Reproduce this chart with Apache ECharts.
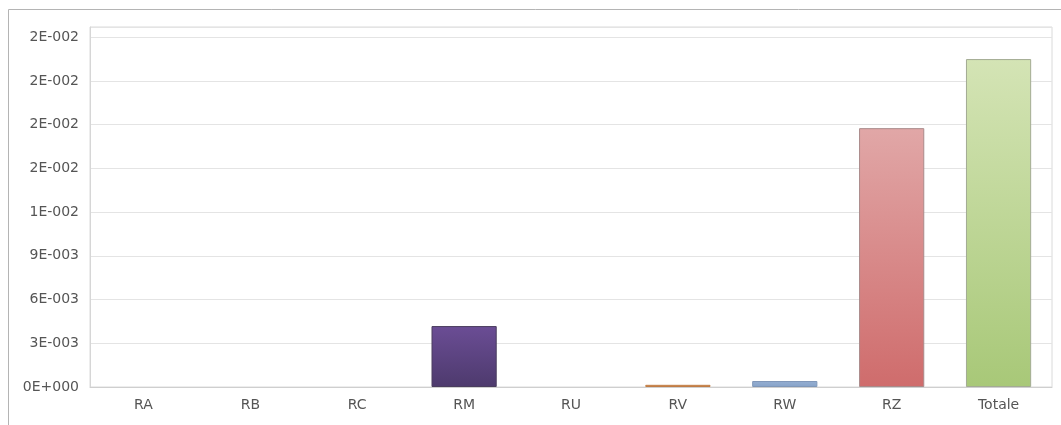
<!DOCTYPE html>
<html>
<head>
<meta charset="utf-8">
<script src="https://cdn.jsdelivr.net/npm/echarts@6/dist/echarts.min.js"></script>
<style>
  html, body { margin: 0; padding: 0; background: #fff; }
  #chart { width: 1061px; height: 425px; }
</style>
</head>
<body>
<div id="chart"></div>
<script>
// data
const categories = ['RA', 'RB', 'RC', 'RM', 'RU', 'RV', 'RW', 'RZ', 'Totale'];
const values = [0, 0, 0, 0.00418, 0, 0.00015, 0.00041, 0.01776, 0.0225];
const yTicks = { min: 0, max: 0.0247, interval: 0.003 };

// bar colours (top -> bottom of gradient)
const topColors = ['#8a8a8a', '#8a8a8a', '#8a8a8a', '#6b4d95', '#8a8a8a', '#e2a774', '#95afd2', '#e1a7a7', '#d4e4b5'];
const bottomColors = ['#8a8a8a', '#8a8a8a', '#8a8a8a', '#4d3a6d', '#8a8a8a', '#d48a4a', '#86a2c8', '#cf6c6c', '#a8c878'];
const borderColors = ['#888', '#888', '#888', '#4a3d5e', '#888', '#c07c45', '#7f97b8', '#a98a8a', '#a3ab93'];

// 0.015 -> "2E-002", 0 -> "0E+000"
function sci(v) {
  if (v === 0) return '0E+000';
  let exp = Math.floor(Math.log10(Math.abs(v)));
  let mant = Math.round(v / Math.pow(10, exp));
  if (mant >= 10) { mant = 1; exp++; }
  const sign = exp < 0 ? '-' : '+';
  return mant + 'E' + sign + String(Math.abs(exp)).padStart(3, '0');
}

const chart = echarts.init(document.getElementById('chart'));

const option = {
  animation: false,
  graphic: [{
    type: 'rect',
    shape: { x: 8.5, y: 9.5, width: 1200, height: 600 },
    style: { fill: 'none', stroke: '#b4b4b4', lineWidth: 1 },
    silent: true
  }],
  grid: {
    left: 90, right: 9, top: 27, bottom: 38,
    show: true, borderColor: '#dadada', borderWidth: 1
  },
  xAxis: {
    type: 'category',
    data: categories,
    axisLine: { lineStyle: { color: '#cfcfcf' } },
    axisTick: { alignWithLabel: true, length: 5, lineStyle: { color: '#cfcfcf' } },
    axisLabel: { color: '#555', fontSize: 14, fontFamily: 'DejaVu Sans', margin: 11 }
  },
  yAxis: {
    type: 'value',
    min: yTicks.min,
    max: yTicks.max,
    interval: yTicks.interval,
    axisLine: { show: true, lineStyle: { color: '#d6d6d6' } },
    axisTick: { show: false },
    splitLine: { lineStyle: { color: '#e4e4e4' } },
    axisLabel: {
      color: '#555', fontSize: 14, fontFamily: 'DejaVu Sans', margin: 11,
      showMaxLabel: false,
      formatter: sci
    }
  },
  series: [{
    type: 'bar',
    barCategoryGap: '39%',
    data: values.map((v, i) => ({
      value: v,
      itemStyle: {
        color: new echarts.graphic.LinearGradient(0, 0, 0, 1, [
          { offset: 0, color: topColors[i] },
          { offset: 1, color: bottomColors[i] }
        ]),
        borderColor: borderColors[i],
        // empty bars leave no mark in the reference
        borderWidth: v === 0 ? 0 : 1,
        opacity: v === 0 ? 0 : 1
      }
    }))
  }]
};

chart.setOption(option);
</script>
</body>
</html>
